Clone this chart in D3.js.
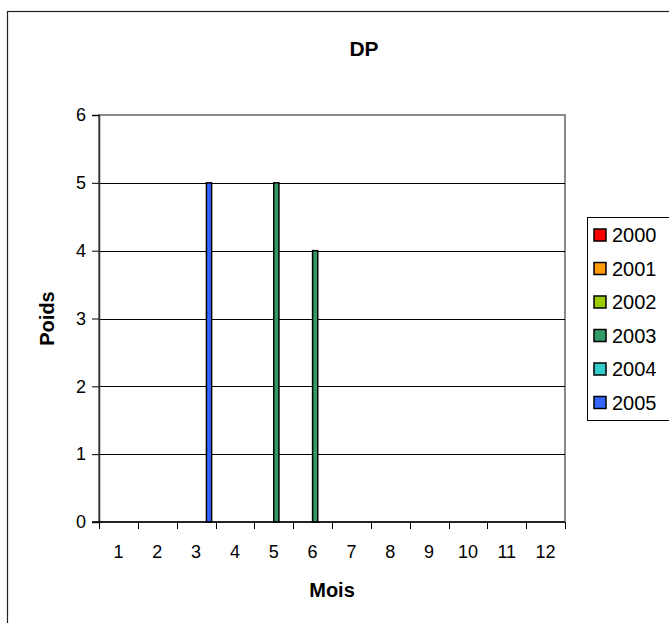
<!DOCTYPE html>
<html>
<head>
<meta charset="utf-8">
<script src="https://cdn.jsdelivr.net/npm/d3@7"></script>
<style>
  html, body { margin: 0; padding: 0; background: #fff; }
  svg { display: block; font-family: "Liberation Sans", Arial, sans-serif; }
</style>
</head>
<body>
<svg id="chart" width="669" height="623"></svg>
<script>
const title = "DP";
const xTitle = "Mois";
const yTitle = "Poids";
const months = ["1","2","3","4","5","6","7","8","9","10","11","12"];
const years = ["2000","2001","2002","2003","2004","2005"];
const colors = ["#FF0000","#FF9900","#99CC00","#339966","#33CCCC","#3366FF"];
const v2000 = [0,0,0,0,0,0,0,0,0,0,0,0];
const v2001 = [0,0,0,0,0,0,0,0,0,0,0,0];
const v2002 = [0,0,0,0,0,0,0,0,0,0,0,0];
const v2003 = [0,0,0,0,5,4,0,0,0,0,0,0];
const v2004 = [0,0,0,0,0,0,0,0,0,0,0,0];
const v2005 = [0,0,5,0,0,0,0,0,0,0,0,0];
const yTicks = [0,1,2,3,4,5,6];

const seriesValues = [v2000, v2001, v2002, v2003, v2004, v2005];

const svg = d3.select("#chart");
const L = 99, R = 565, T = 115, B = 522;

// outer chart border (extends past the window)
svg.append("rect").attr("x", 7.5).attr("y", 11.5).attr("width", 700).attr("height", 700)
  .attr("fill", "#fff").attr("stroke", "#222").attr("stroke-width", 1.2);

const x0 = d3.scaleBand().domain(months).range([L, R]).padding(0);
const bw = x0.bandwidth();
const x1 = d3.scaleBand().domain(years).range([bw * 0.1, bw * 0.9]).padding(0);
const y = d3.scaleLinear().domain([0, 6]).range([B, T]);

// plot area border (top/right grey)
svg.append("rect").attr("x", L).attr("y", T).attr("width", R - L).attr("height", B - T)
  .attr("fill", "#fff").attr("stroke", "#8a8a8a").attr("stroke-width", 2);

// gridlines
svg.append("g").selectAll("line").data(yTicks.filter(d => d > 0 && d < 6)).join("line")
  .attr("x1", L).attr("x2", R).attr("y1", d => Math.round(y(d)) + 0.5).attr("y2", d => Math.round(y(d)) + 0.5)
  .attr("stroke", "#000").attr("stroke-width", 1);

// bars
const flat = [];
seriesValues.forEach((vals, si) => vals.forEach((v, mi) => { if (v > 0) flat.push({year: years[si], month: months[mi], v, c: colors[si]}); }));
svg.append("g").selectAll("rect").data(flat).join("rect")
  .attr("x", d => x0(d.month) + x1(d.year))
  .attr("width", x1.bandwidth())
  .attr("y", d => y(d.v))
  .attr("height", d => y(0) - y(d.v))
  .attr("fill", d => d.c)
  .attr("stroke", "#000").attr("stroke-width", 1.5);

// y axis
const yAxis = d3.axisLeft(y).tickValues(yTicks).tickSize(7).tickPadding(6).tickFormat(d3.format("d"));
const gy = svg.append("g").attr("transform", `translate(${L},0)`).call(yAxis);
gy.select(".domain").attr("stroke", "#333").attr("stroke-width", 1.5);
gy.selectAll(".tick line").attr("stroke", "#000");
gy.selectAll(".tick text").attr("font-size", 18).attr("fill", "#000").attr("font-family", "Liberation Sans, Arial, sans-serif");

// x axis with ticks at category boundaries
const xAxis = d3.axisBottom(x0).tickSize(0).tickPadding(23);
const gx = svg.append("g").attr("transform", `translate(0,${B})`).call(xAxis);
gx.select(".domain").remove();
gx.selectAll(".tick text").attr("font-size", 18).attr("fill", "#000").attr("font-family", "Liberation Sans, Arial, sans-serif");
svg.append("line").attr("x1", L - 7).attr("x2", R).attr("y1", B).attr("y2", B).attr("stroke", "#000").attr("stroke-width", 1.5);
const bounds = months.map(m => x0(m)).concat([R]);
svg.append("g").selectAll("line").data(bounds).join("line")
  .attr("x1", d => Math.round(d) + 0.5).attr("x2", d => Math.round(d) + 0.5)
  .attr("y1", B).attr("y2", B + 7).attr("stroke", "#000").attr("stroke-width", 1);

// titles
svg.append("text").attr("x", 364).attr("y", 56).attr("text-anchor", "middle")
  .attr("font-size", 21).attr("font-weight", "bold").text(title);
svg.append("text").attr("x", (L + R) / 2).attr("y", 597).attr("text-anchor", "middle")
  .attr("font-size", 20).attr("font-weight", "bold").text(xTitle);
svg.append("text").attr("transform", `translate(54,${(T + B) / 2}) rotate(-90)`).attr("text-anchor", "middle")
  .attr("font-size", 20).attr("font-weight", "bold").text(yTitle);

// legend
const lg = svg.append("g");
lg.append("rect").attr("x", 587.5).attr("y", 217.5).attr("width", 120).attr("height", 203)
  .attr("fill", "#fff").attr("stroke", "#000").attr("stroke-width", 1);
const items = lg.selectAll("g.item").data(years).join("g").attr("class", "item")
  .attr("transform", (d, i) => `translate(0,${235 + i * 33.5})`);
items.append("rect").attr("x", 594).attr("y", -6).attr("width", 12).attr("height", 12)
  .attr("fill", (d, i) => colors[i]).attr("stroke", "#000").attr("stroke-width", 1.5);
items.append("text").attr("x", 612).attr("y", 7).attr("font-size", 20).text(d => d);
</script>
</body>
</html>
